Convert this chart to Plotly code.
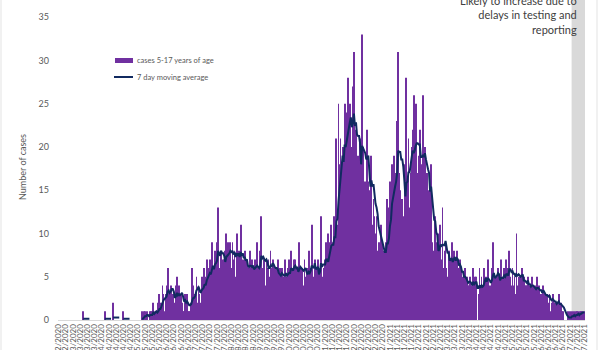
import pandas as pd
import plotly.graph_objects as go

# Daily confirmed cases, ages 5-17, one row per week starting 20/02/2020
start_date = "2020-02-20"
daily_cases = [
    0, 0, 0, 0, 0, 0, 0,
    0, 0, 0, 0, 0, 0, 0,
    0, 0, 0, 0, 0, 0, 0,
    0, 0, 0, 1, 0, 0, 0,
    0, 0, 0, 0, 0, 0, 0,
    0, 0, 0, 0, 0, 0, 0,
    0, 0, 0, 1, 0, 0, 0,
    0, 0, 0, 0, 2, 0, 0,
    0, 0, 0, 0, 0, 0, 0,
    1, 0, 0, 0, 0, 0, 0,
    0, 0, 0, 0, 0, 0, 0,
    0, 0, 0, 0, 1, 0, 1,
    1, 0, 1, 0, 0, 1, 1,
    1, 2, 0, 1, 1, 0, 2,
    3, 2, 2, 4, 3, 1, 3,
    4, 6, 3, 2, 4, 3, 3,
    2, 1, 4, 5, 2, 4, 2,
    3, 2, 1, 1, 3, 2, 3,
    1, 1, 1, 2, 6, 4, 3,
    3, 5, 2, 4, 3, 2, 5,
    4, 6, 5, 3, 7, 4, 6,
    7, 5, 9, 6, 4, 8, 7,
    9, 13, 6, 5, 8, 6, 7,
    7, 8, 10, 6, 9, 7, 9,
    6, 9, 7, 8, 5, 10, 7,
    8, 6, 11, 5, 7, 6, 8,
    5, 7, 6, 4, 8, 6, 7,
    6, 4, 7, 5, 9, 5, 6,
    8, 12, 5, 6, 7, 4, 7,
    6, 7, 5, 8, 6, 7, 6,
    4, 6, 5, 7, 3, 6, 5,
    6, 5, 4, 7, 5, 4, 6,
    7, 5, 8, 6, 4, 7, 7,
    5, 6, 4, 9, 5, 6, 6,
    4, 7, 5, 6, 3, 8, 5,
    6, 11, 4, 5, 7, 3, 6,
    7, 5, 6, 12, 4, 5, 6,
    7, 9, 6, 10, 8, 9, 11,
    8, 9, 12, 10, 21, 11, 25,
    18, 21, 17, 20, 16, 25, 23,
    24, 28, 19, 25, 20, 17, 27,
    31, 18, 22, 15, 19, 17, 21,
    14, 33, 20, 14, 16, 12, 22,
    16, 15, 13, 19, 11, 14, 12,
    10, 12, 8, 9, 7, 11, 9,
    6, 8, 5, 9, 14, 11, 13,
    16, 13, 18, 15, 19, 14, 17,
    23, 31, 17, 15, 13, 14, 11,
    12, 18, 28, 16, 21, 13, 17,
    20, 22, 26, 18, 25, 15, 17,
    19, 22, 16, 18, 26, 14, 20,
    14, 17, 13, 15, 11, 18, 9,
    7, 8, 12, 6, 9, 5, 10,
    11, 7, 13, 6, 8, 9, 6,
    5, 8, 6, 7, 9, 6, 8,
    7, 5, 8, 6, 4, 7, 6,
    3, 5, 4, 6, 3, 5, 4,
    4, 5, 3, 4, 6, 3, 5,
    5, 0, 3, 6, 4, 5, 4,
    6, 4, 5, 3, 7, 4, 3,
    4, 6, 9, 5, 3, 5, 4,
    6, 5, 4, 7, 3, 5, 6,
    5, 7, 4, 6, 8, 5, 4,
    6, 4, 5, 3, 10, 4, 5,
    5, 3, 6, 4, 5, 4, 4,
    4, 5, 3, 4, 3, 5, 4,
    3, 4, 2, 5, 3, 4, 3,
    3, 2, 4, 3, 2, 3, 3,
    2, 3, 1, 2, 3, 2, 2,
    2, 1, 2, 3, 1, 2, 1,
    1, 0, 0, 0, 0, 1, 0,
    1, 0, 1, 0, 1, 0, 1,
    1, 1, 0, 1, 1, 1, 1,
    1,
]

# Days from this date onward are still incomplete
reporting_lag_start = "2021-07-03"
lag_note = "Likely to increase due to<br>delays in testing and<br>reporting"

y_ticks = [0, 5, 10, 15, 20, 25, 30, 35]
series_names = ["cases 5-17 years of age", "7 day moving average"]

BAR_COLOUR = "#7030a0"
LINE_COLOUR = "#112a60"
TEXT_COLOUR = "#595959"
FONT = "Lato"

dates = pd.date_range(start_date, periods=len(daily_cases), freq="D")
cases = pd.Series(daily_cases, index=dates, dtype=float)
moving_avg = cases.rolling(7).mean()
# days with no recent cases are left blank rather than drawn along zero
moving_avg = moving_avg.where(moving_avg > 0)

half_day = pd.Timedelta(hours=12)
x_range = [dates[0] - half_day, dates[-1] + half_day]

fig = go.Figure()
fig.add_trace(go.Bar(
    x=dates, y=cases, name=series_names[0],
    marker=dict(color=BAR_COLOUR, line=dict(width=0)),
    showlegend=False,
))
fig.add_trace(go.Scatter(
    x=dates, y=moving_avg, name=series_names[1], mode="lines",
    line=dict(color=LINE_COLOUR, width=2),
    connectgaps=False, showlegend=False,
))

# shaded window of incomplete reporting
fig.add_shape(
    type="rect", xref="x", yref="paper",
    x0=pd.Timestamp(reporting_lag_start) - half_day, x1=x_range[1],
    y0=0, y1=1, fillcolor="#d9d9d9", line=dict(width=0), layer="below",
)

# plot area geometry in pixels, used for the hand-built legend
L, R, T, B = 58, 15, 0, 30
W, H = 600, 350
pw, ph = W - L - R, H - T - B


def px(xp):
    return (xp - L) / pw


def py(yp):
    return 1 - (yp - T) / ph


# legend: bar swatch, line swatch and labels
fig.add_shape(type="rect", xref="paper", yref="paper",
              x0=px(115), x1=px(133), y0=py(63), y1=py(58),
              fillcolor=BAR_COLOUR, line=dict(width=0))
fig.add_shape(type="line", xref="paper", yref="paper",
              x0=px(114), x1=px(133), y0=py(77), y1=py(77),
              line=dict(color=LINE_COLOUR, width=2))
for label, ypix in zip(series_names, [60.5, 77]):
    fig.add_annotation(text=label, xref="paper", yref="paper",
                       x=px(135), y=py(ypix), xanchor="left", yanchor="middle",
                       showarrow=False, font=dict(family=FONT, size=7.5, color=TEXT_COLOUR))

# outer frame lines at the page edges
for xp in (1, 597):
    fig.add_shape(type="line", xref="paper", yref="paper",
                  x0=px(xp), x1=px(xp), y0=py(0), y1=py(350),
                  line=dict(color="#e3e3e3", width=1))

fig.add_annotation(text=lag_note, xref="paper", yref="paper",
                   x=px(579), y=py(-8), xanchor="right", yanchor="top",
                   align="right", showarrow=False,
                   font=dict(family=FONT, size=11, color="#404040"))

fig.add_annotation(text="Number of cases", xref="paper", yref="paper",
                   x=px(22), y=py(167), xanchor="center", yanchor="middle",
                   textangle=-90, showarrow=False,
                   font=dict(family=FONT, size=9, color=TEXT_COLOUR))

fig.update_layout(
    width=W, height=H,
    margin=dict(l=L, r=R, t=T, b=B),
    paper_bgcolor="white", plot_bgcolor="white",
    bargap=0.15,
    font=dict(family=FONT, color=TEXT_COLOUR),
    xaxis=dict(
        type="date", range=x_range,
        tick0=start_date, dtick=7 * 86400000, tickformat="%d/%m/%Y",
        tickangle=-90, tickfont=dict(size=8, color=TEXT_COLOUR),
        showgrid=False, zeroline=False,
        showline=True, linecolor="#d9d9d9", linewidth=1,
        ticks="", automargin=False,
    ),
    yaxis=dict(
        range=[0, 37], tickvals=y_ticks,
        tickfont=dict(size=9, color=TEXT_COLOUR),
        showgrid=False, zeroline=False, showline=False,
        ticks="", ticklabelstandoff=8, automargin=False,
    ),
)

fig.write_html("out.html")
